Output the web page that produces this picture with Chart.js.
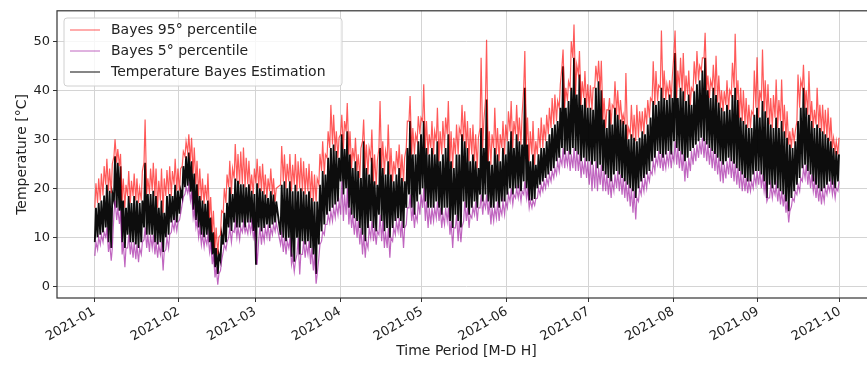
<!DOCTYPE html>
<html>
<head>
<meta charset="utf-8">
<script src="https://cdn.jsdelivr.net/npm/chart.js@4.4.1/dist/chart.umd.min.js"></script>
<style>
  html, body { margin: 0; padding: 0; background: #fff; overflow: hidden; }
  #wrap { width: 880px; height: 365px; position: relative; }
</style>
</head>
<body>
<div id="wrap"><canvas id="tempchart"></canvas></div>
<script>
"use strict";

/* month ticks (day offset from 2021-01-01) */
var monthDays = [0, 31, 59, 90, 120, 151, 181, 212, 243, 273];
var monthLabels = ["2021-01", "2021-02", "2021-03", "2021-04", "2021-05", "2021-06", "2021-07", "2021-08", "2021-09", "2021-10"];
var yTicks = [0, 10, 20, 30, 40, 50];

/* daily highs / lows, Jan 1 .. Sep 30 (one row per month) */
var blackHigh = [
  16,17,17.5,18.5,20.7,19.5,19,26.5,25.2,24.5,17.5,16,18.4,17,18.4,17.5,17,17.5,25.2,18.8,18.8,19.5,18.4,16,17.5,15,18.4,18.8,18.4,20.7,19.5,
  19.5,24.5,26.5,27.3,25.5,23,20.8,18.4,17.5,16.8,17.5,14,11,7.8,6.5,10.5,15,17,20.2,18.8,22,21.5,20.8,20.8,20.2,20.8,19.5,18.8,
  21,20,19.4,18.7,18,19.4,18.7,17.3,null,20.7,21.4,20,21.4,19.4,20.7,19.4,20,19.4,18.7,19.4,18,17.3,17.3,20.7,23.5,22.8,26.2,28.2,28.9,27.6,26.2,
  31,28,31.6,26.9,24.1,25.5,23.5,22.1,29.6,24.1,22.8,26.2,21.4,20.7,28.2,24.1,22.8,25.5,22.8,21.4,22.8,24.1,22.1,21.4,28.2,33.7,26.9,26.9,29.6,31,
  33.7,28.2,26.9,28.2,26.9,29.6,25.5,26.9,28.2,31,25.5,24.1,26.9,26.9,31,29.6,28.2,25.5,26.9,25.5,24.1,32.3,28.2,38.1,25.5,24.8,28.2,26.9,25.5,28.2,26.9,
  29.6,31.6,28.2,31,29.6,28.9,40.5,28.9,25.5,26.9,24.8,26.9,28.2,28.2,29.6,31,32.3,33,33.7,36.4,44.9,36.4,37.8,40.5,46.6,39.1,43.2,37,38.4,36.4,
  36.4,36,40.5,41.8,40,34,32.3,36,33,36.4,35,34,33.7,33,30,31,30.3,29.6,30.3,31.6,31,33,34.4,37.8,37,37.8,40.5,38.4,38,39.1,38.4,
  47.6,38.4,40.5,39.8,37.8,39.1,37,39.8,41.2,42,44,46.6,40,38.4,40.5,39,37.5,36.4,35.7,37,36,39,40.5,38,34.4,33.7,33,32.3,32.3,35,36.4,
  34.4,37.8,35.7,34.4,33,32.3,34.4,32.3,33.7,31.6,30.3,28.9,28.2,29.6,33.7,36.4,40.5,36.4,35,33.7,32.3,33,32.3,31.6,31,30.3,29.6,28.2,27.6,26.9
];
var blackLow = [
  9,10,10.5,11,12,9,7.8,17.5,16,15.4,9,7.8,10.5,9,9,8.5,7.8,9,12,10.5,10.5,10.5,9,8.5,9,7,10,10.5,13,13.5,13,
  14.8,18.2,20.2,20.5,19.3,15.6,13.5,12,10.5,10,10.5,9,6.5,3.9,2.5,5.2,8.5,9,12,11.3,13,12,12,13,12,13,13,11.3,
  4.4,12,11.2,11.9,12.6,11.9,12.6,13,null,10.5,9.9,9.2,9.9,6,5,9.9,6.5,9.2,8.5,9.2,7.8,6.5,2.5,8.5,11.2,12.6,14.6,15.3,16,16.7,17.3,
  21.4,18.7,20,16,14.6,13.9,13.3,11.9,10.5,9.2,11.9,13.3,11.9,11.2,14.6,13.3,11.2,11.9,9.9,11.9,13.3,13.9,13.3,11.9,16,18.7,16,14.6,17.3,18.7,
  20,17.3,16,16,16,17.3,16,14.6,16,16,13.3,11.9,14.6,13.3,12,17.3,16,14.6,16,17.3,16,18.7,17.3,18.7,17.3,16,16,17.3,16,17.3,17.3,
  18.7,20,18.7,20,20,19.4,21.4,20,17.5,17.5,17.8,20,20.7,21.4,22.1,22.8,23.5,24.1,25.5,26.2,28.2,26.9,27.6,26.9,28.2,27.6,26.9,25.5,26.2,25.5,
  25.5,24.8,25.5,24.1,24.8,23.5,22.8,22.1,21.4,22.8,23.5,22.8,22.1,21.4,20.7,20,19.4,18,20,21.4,22.1,22.8,23.5,25.5,26.2,27.6,27,26.2,26.9,27.6,26.9,
  29.6,28.2,27.6,26.9,25.5,26.2,27.6,28.2,28.9,29.6,30.3,29.6,28.9,28.2,27.6,27,26.2,25.5,24.8,25.5,26.2,25.5,25,24.1,23.5,22.8,22.1,21.4,21.4,22.8,23.5,
  23.5,22.8,21.4,18,20.7,20,20.7,20,19.4,18.7,17.3,15.3,18,19.4,20.7,22.1,24.1,24.8,23.5,22.8,21.4,20.7,20,19.4,20,20.7,21.4,20.7,20,21.4
];
var upper95 = [
  21,22,23,24.5,26,24,25,30,28,27,22,20.7,23.5,21.5,23,22,20,23.5,34,22,24,25.2,24,21.5,24,22,23.7,24.5,23.5,26,24,
  24,27.5,29.5,31,30.3,28.3,25.6,24,22,20.7,23,18.2,15.4,12,10,15.4,20,22.8,25.6,24,29,27,27.5,28.3,26.2,25.6,22.8,24,
  26,24.5,25,22.8,22,24,22,20,null,28.6,26.9,25,27,24.8,27,25.5,26.2,25.5,24.1,25,23.5,22.8,22,27,29.6,26.9,31.6,37,35,31.6,30.3,
  35,33.7,37.4,31.6,28.2,30.3,26.9,28.2,34,28.9,28.2,32,26.9,25.5,37.8,29.6,27.6,33,28.2,25.5,27.6,28.9,26.9,26.2,33.7,38.8,32.3,31,34.7,34.4,
  41.2,33.7,31,33.7,31.6,36.4,31.6,33.7,34.4,37.8,31.6,30.3,33,32.3,37,35.7,33.7,32.3,33,31,30.3,46.6,33.7,50.3,31.6,31,36.4,32.3,31,33.7,33,
  35.7,37.8,33.7,37,34.4,35,48,34.4,31.6,33.7,29.6,32.3,34.4,33,35,36.4,38.4,39.1,37.8,41.2,48.3,40.5,41.8,50,53.4,45.2,48,41.8,43.9,41.2,
  41,40.5,45,46,46,38.4,36,38.4,37,41.8,40,38,35,43.5,32.3,37,35,37,35.7,35.7,36.4,38,38.4,45.9,43.9,41,52.2,44,41.2,42,42.8,
  52.2,44,46.6,47.6,43,44,40.5,45.9,48,45,46.6,51.7,43,42,45.2,47,43,40,39.8,42,40,45.6,51.5,42,40.5,40,38.4,37,35.7,44,46.7,
  40,48.3,42,41.2,38.4,39,42.2,38,42.2,37,35.7,31.6,32.3,31.6,43.2,42,45.2,40,43.9,37.8,36,40.5,37,37,36,36.4,34.4,30.3,29.6,30.3
];
var lower05 = [
  6.2,7.5,8.5,9,10,7,5.2,14.8,13.5,12.7,6.5,3.9,7.8,6.5,5.8,5.5,4.9,6.5,9.5,7.8,7,7.8,6.5,5.8,6.5,3.2,7.5,7.8,11,11.5,11.3,
  13.5,16.8,18.8,19,17.5,14,12,10,8.5,8,8.5,7,4.5,1.8,0.3,3.2,7,7.5,10,9,11,10,9.5,11,11,10.7,11,10,
  8.5,9.5,8.5,9.2,10,9.2,10.5,11.2,null,8.5,7,6.5,7.8,4.5,3,6.5,2.4,6.5,5.8,6.5,4.5,3.2,0.5,5.8,9.2,10.5,12.6,13,13.3,14,14.6,
  14.6,13.3,14.6,12.6,11.9,10.5,9.9,8.5,6.5,5.8,7.8,9.9,9.2,8.5,10.5,9.2,7.8,7.8,5.8,9.2,10.5,11.2,9.9,7.8,12.6,16,13.3,11.9,13.3,14.6,
  16,13.3,11.9,12.6,13.3,13.9,13.3,11.9,12.6,13.3,10.5,7.8,11.9,9.2,9,13.3,13.3,11.9,13.9,14.6,13.3,16,14.6,16,14.6,12.6,13.3,13.9,13.3,14.6,14.6,
  16,17.3,16.7,18,18,17.3,18.7,18,16,16,16.5,18,18.7,19.4,20,20.7,21.4,22.1,22.8,23.5,24.8,24.1,24.8,23.5,24.1,23.5,23.5,22.1,22.8,22.1,
  20.7,19.4,20,19.4,20.7,19.4,19.4,18.7,18,19.4,20,19.4,18.7,18,17.3,16.3,15,13.6,17.3,18.7,19.4,20,21.4,22.8,23.5,24.8,24.1,23.5,24.1,24.8,24.1,
  25.5,24.8,24.1,23.5,21.4,22.1,23.5,24.8,25.5,26.2,26.9,26.2,25.5,24.8,24.1,23.5,22.8,21.4,21,22,22.8,22.1,21.4,20.7,20,19.4,19.4,19,19.4,20,20.7,
  20.7,20,19.4,17.3,18,18,18.7,17.3,16.7,16.3,15,13,16.3,17.3,18.7,19.4,21.4,22.1,20.7,20,19.4,18,17.3,16.7,17.3,18.7,19.4,18.7,18,19.4
];

/* night value -> afternoon value, two points a day */
function dailyZigzag(night, day) {
  var pts = [];
  for (var i = 0; i < day.length; i++) {
    pts.push({ x: i + 0.25, y: night[i] });
    pts.push({ x: i + 0.65, y: day[i] });
  }
  return pts;
}

var fontFam = "'DejaVu Sans', 'Liberation Sans', sans-serif";

/* legend box inside the axes, like matplotlib */
var boxLegend = {
  id: 'boxLegend',
  afterDraw: function (chart) {
    var c = chart.ctx;
    var area = chart.chartArea;
    c.save();
    // axes frame
    c.strokeStyle = '#333';
    c.lineWidth = 1.2;
    c.strokeRect(area.left, area.top, area.right - area.left, area.bottom - area.top);
    // legend frame
    var x = 64, y = 18, w = 278, h = 68, r = 3;
    c.beginPath();
    c.moveTo(x + r, y);
    c.arcTo(x + w, y, x + w, y + h, r);
    c.arcTo(x + w, y + h, x, y + h, r);
    c.arcTo(x, y + h, x, y, r);
    c.arcTo(x, y, x + w, y, r);
    c.closePath();
    c.fillStyle = 'rgba(255,255,255,0.8)';
    c.fill();
    c.strokeStyle = '#d0d0d0';
    c.lineWidth = 1;
    c.stroke();
    var ds = chart.data.datasets;
    c.font = '14px ' + fontFam;
    c.textBaseline = 'middle';
    for (var k = 0; k < ds.length; k++) {
      var ly = 30 + k * 21;
      c.strokeStyle = ds[k].borderColor;
      c.lineWidth = 1;
      c.beginPath();
      c.moveTo(70, ly);
      c.lineTo(100, ly);
      c.stroke();
      c.fillStyle = '#222';
      c.fillText(ds[k].label, 111, ly);
    }
    c.restore();
  }
};

var ctx = document.getElementById("tempchart");
var tempchart = new Chart(ctx, {
  type: 'line',
  data: {
    datasets: [{
      label: 'Bayes 95° percentile',
      data: dailyZigzag(blackHigh, upper95),
      borderColor: 'rgba(255, 0, 0, 0.65)',
      borderWidth: 1.2
    }, {
      label: 'Bayes 5° percentile',
      data: dailyZigzag(lower05, blackLow),
      borderColor: 'rgba(150, 0, 150, 0.6)',
      borderWidth: 1.2
    }, {
      label: 'Temperature Bayes Estimation',
      data: dailyZigzag(blackLow, blackHigh),
      borderColor: 'rgba(0, 0, 0, 0.95)',
      borderWidth: 1.9
    }]
  },
  options: {
    responsive: true,
    maintainAspectRatio: false,
    animation: false,
    spanGaps: true,
    elements: { point: { radius: 0 }, line: { tension: 0 } },
    layout: { padding: { top: 10, right: 4, left: 0, bottom: 0 } },
    plugins: { legend: { display: false }, tooltip: { enabled: false } },
    scales: {
      x: {
        type: 'linear',
        min: -13.6,
        max: 286.2,
        afterFit: function (s) { s.height = 67; },
        afterBuildTicks: function (s) {
          s.ticks = monthDays.map(function (d) { return { value: d }; });
        },
        ticks: {
          autoSkip: false,
          minRotation: 30,
          maxRotation: 30,
          padding: 2,
          color: '#222',
          font: { family: fontFam, size: 13 },
          callback: function (v) { return monthLabels[monthDays.indexOf(v)]; }
        },
        grid: { color: '#d4d4d4', lineWidth: 1, tickLength: 4, tickColor: '#333' },
        border: { display: false },
        title: {
          display: true,
          text: 'Time Period [M-D H]',
          color: '#222',
          font: { family: fontFam, size: 14 },
          padding: { top: 0, bottom: 5 }
        }
      },
      y: {
        min: -2.4,
        max: 56.2,
        afterFit: function (s) { s.width = 57; },
        afterBuildTicks: function (s) {
          s.ticks = yTicks.map(function (v) { return { value: v }; });
        },
        ticks: {
          padding: 3,
          color: '#222',
          font: { family: fontFam, size: 13 }
        },
        grid: { color: '#d4d4d4', lineWidth: 1, tickLength: 4, tickColor: '#333' },
        border: { display: false },
        title: {
          display: true,
          text: 'Temperature [°C]',
          color: '#222',
          font: { family: fontFam, size: 14 },
          padding: { top: 14, bottom: 0 }
        }
      }
    }
  },
  plugins: [boxLegend]
});
</script>
</body>
</html>
